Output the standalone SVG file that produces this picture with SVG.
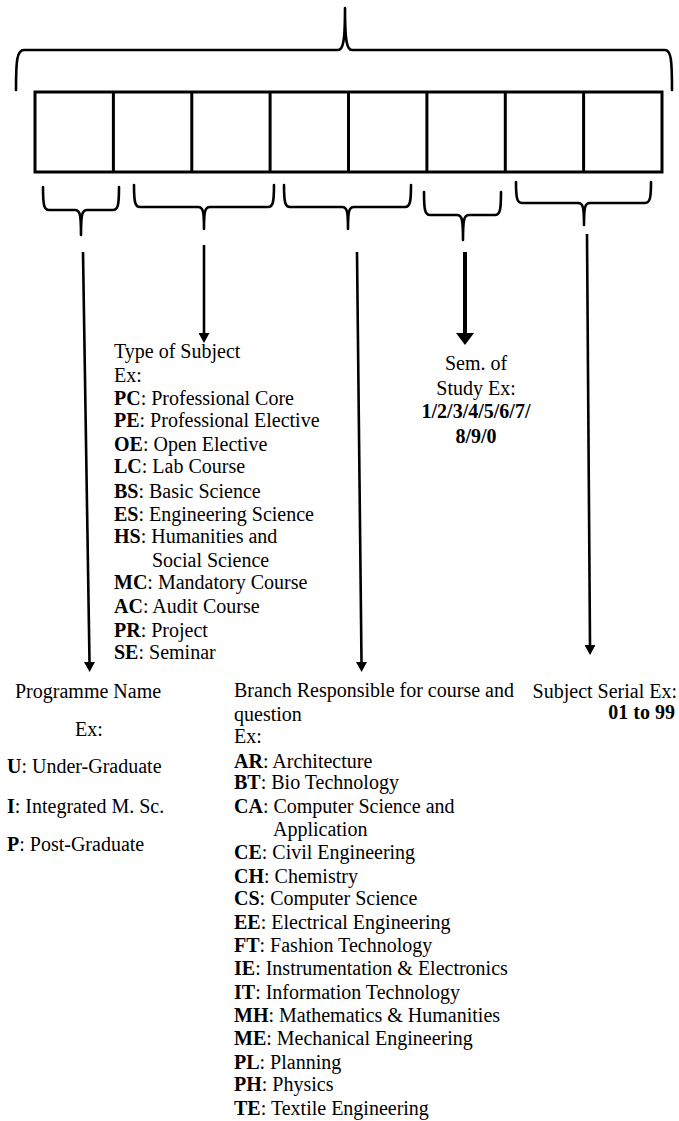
<svg xmlns="http://www.w3.org/2000/svg" width="679" height="1121" viewBox="0 0 679 1121">
<style>
.t{font-family:"Liberation Serif","Times New Roman",serif;font-size:20px;fill:#000}
.b{font-weight:bold}
.br{fill:none;stroke:#000;stroke-width:2.6;stroke-linejoin:round;stroke-linecap:round}
.box{fill:none;stroke:#000;stroke-width:3}
.ar{fill:none;stroke:#000;stroke-width:2.6}
.ar4{fill:none;stroke:#000;stroke-width:4}
</style>
<defs>
<marker id="ah" markerUnits="userSpaceOnUse" viewBox="0 0 10 11" markerWidth="10" markerHeight="11" refX="0" refY="5.5" orient="auto">
<path d="M0,0 L10,5.5 L0,11 z" fill="#000"/>
</marker>
<marker id="ahBig" markerUnits="userSpaceOnUse" viewBox="0 0 12 18" markerWidth="12" markerHeight="18" refX="0" refY="9" orient="auto">
<path d="M0,0 L12,9 L0,18 z" fill="#000"/>
</marker>
</defs>

<g id="top-brace">
<path class="br" d="M16,90 C16,60 17,50 24,50 L338,50 C343,50 345,42 345,8 C345,42 347,50 352,50 L665,50 C671,50 672,60 672,90"/>
</g>

<g id="code-boxes">
<rect class="box" x="35" y="92" width="627" height="80"/>
<path class="box" d="M113.4,92V172 M191.8,92V172 M270.1,92V172 M348.5,92V172 M426.9,92V172 M505.3,92V172 M583.6,92V172"/>
</g>

<g id="brace-programme">
<path class="br" d="M43,187 C43,205 44,210 49,210 L75,210 C80,210 81,214 81,235 C81,214 82,210 87,210 L113,210 C118,210 119,205 119,187"/>
</g>
<g id="brace-type">
<path class="br" d="M134,185 C134,202 135,207 140,207 L198,207 C203,207 204,211 204,229 C204,211 205,207 210,207 L268,207 C273,207 274,202 274,185"/>
</g>
<g id="brace-branch">
<path class="br" d="M284,185 C284,202 285,207 290,207 L342,207 C347,207 348,211 348,229 C348,211 349,207 354,207 L405,207 C410,207 411,202 411,185"/>
</g>
<g id="brace-sem">
<path class="br" d="M424,192 C424,210 425,215 430,215 L457,215 C462,215 463,219 463,240 C463,219 464,215 469,215 L495,215 C500,215 501,210 501,192"/>
</g>
<g id="brace-serial">
<path class="br" d="M516,182 C516,198 517,203 522,203 L578,203 C583,203 584,207 584,225 C584,207 585,203 590,203 L645,203 C650,203 651,198 651,182"/>
</g>

<g id="connectors">
<path class="ar" d="M83,252 L89.5,662" marker-end="url(#ah)"/>
<path class="ar" d="M204,245 L204,333" marker-end="url(#ah)"/>
<path class="ar" d="M357,252 L361.5,662" marker-end="url(#ah)"/>
<path class="ar4" d="M465,252 L465,333" marker-end="url(#ahBig)"/>
<path class="ar" d="M587,234 L590,645" marker-end="url(#ah)"/>
</g>

<g id="label-type" class="t">
<text x="114" y="358">Type of Subject</text>
<text x="114" y="382">Ex:</text>
<text x="114" y="405"><tspan class="b">PC</tspan>: Professional Core</text>
<text x="114" y="427"><tspan class="b">PE</tspan>: Professional Elective</text>
<text x="114" y="451"><tspan class="b">OE</tspan>: Open Elective</text>
<text x="114" y="473"><tspan class="b">LC</tspan>: Lab Course</text>
<text x="114" y="498"><tspan class="b">BS</tspan>: Basic Science</text>
<text x="114" y="521"><tspan class="b">ES</tspan>: Engineering Science</text>
<text x="114" y="543"><tspan class="b">HS</tspan>: Humanities and</text>
<text x="152" y="567">Social Science</text>
<text x="114" y="589"><tspan class="b">MC</tspan>: Mandatory Course</text>
<text x="114" y="613"><tspan class="b">AC</tspan>: Audit Course</text>
<text x="114" y="637"><tspan class="b">PR</tspan>: Project</text>
<text x="114" y="659"><tspan class="b">SE</tspan>: Seminar</text>
</g>

<g id="label-sem" class="t" text-anchor="middle">
<text x="476" y="370">Sem. of</text>
<text x="476" y="395">Study Ex:</text>
<text x="476" y="418" class="b">1/2/3/4/5/6/7/</text>
<text x="476" y="443" class="b">8/9/0</text>
</g>

<g id="label-programme" class="t">
<text x="15" y="698">Programme Name</text>
<text x="75" y="736">Ex:</text>
<text x="7" y="773"><tspan class="b">U</tspan>: Under-Graduate</text>
<text x="7" y="813"><tspan class="b">I</tspan>: Integrated M. Sc.</text>
<text x="7" y="851"><tspan class="b">P</tspan>: Post-Graduate</text>
</g>

<g id="label-branch" class="t">
<text x="234" y="697">Branch Responsible for course and</text>
<text x="234" y="721">question</text>
<text x="234" y="743">Ex:</text>
<text x="234" y="768"><tspan class="b">AR</tspan>: Architecture</text>
<text x="234" y="789"><tspan class="b">BT</tspan>: Bio Technology</text>
<text x="234" y="813"><tspan class="b">CA</tspan>: Computer Science and</text>
<text x="273" y="836">Application</text>
<text x="234" y="859"><tspan class="b">CE</tspan>: Civil Engineering</text>
<text x="234" y="883"><tspan class="b">CH</tspan>: Chemistry</text>
<text x="234" y="905"><tspan class="b">CS</tspan>: Computer Science</text>
<text x="234" y="929"><tspan class="b">EE</tspan>: Electrical Engineering</text>
<text x="234" y="952"><tspan class="b">FT</tspan>: Fashion Technology</text>
<text x="234" y="975"><tspan class="b">IE</tspan>: Instrumentation &amp; Electronics</text>
<text x="234" y="999"><tspan class="b">IT</tspan>: Information Technology</text>
<text x="234" y="1022"><tspan class="b">MH</tspan>: Mathematics &amp; Humanities</text>
<text x="234" y="1045"><tspan class="b">ME</tspan>: Mechanical Engineering</text>
<text x="234" y="1069"><tspan class="b">PL</tspan>: Planning</text>
<text x="234" y="1091"><tspan class="b">PH</tspan>: Physics</text>
<text x="234" y="1115"><tspan class="b">TE</tspan>: Textile Engineering</text>
</g>

<g id="label-serial" class="t" text-anchor="end">
<text x="677" y="698">Subject Serial Ex:</text>
<text x="675" y="719" class="b">01 to 99</text>
</g>
</svg>
